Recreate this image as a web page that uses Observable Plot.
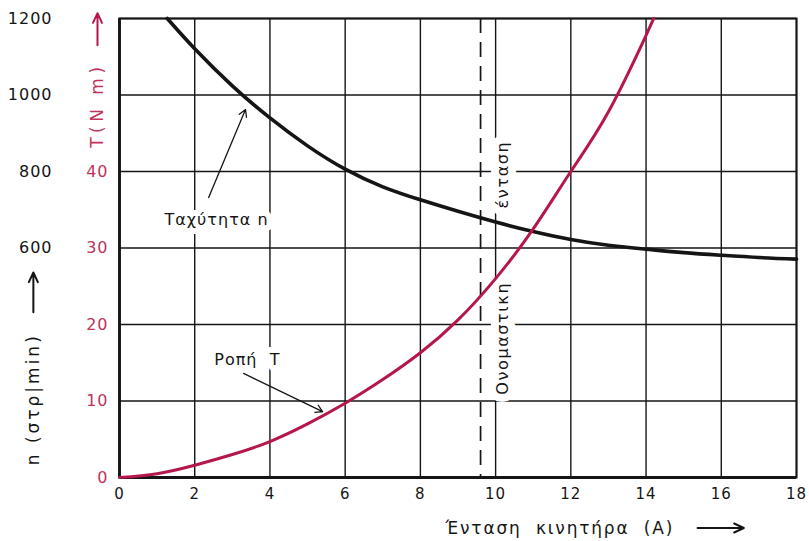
<!DOCTYPE html>
<html><head><meta charset="utf-8">
<script src="https://cdn.jsdelivr.net/npm/d3@7"></script>
<script src="https://cdn.jsdelivr.net/npm/@observablehq/plot@0.6"></script>
<style>
body{margin:0;background:#fff}
svg text{letter-spacing:1px}
</style>
</head><body><div id="chart"></div>
<script>
// Speed curve n (rpm) vs motor current (A)
const speedCurrent = [1.27, 2, 3, 4, 5, 6, 7, 8, 9, 10, 11, 12, 13, 14, 15, 16, 17, 18];
const speedRpm     = [1200, 1121, 1024, 940, 867, 806, 760, 726, 696, 668, 643, 622, 607, 597, 588, 581, 575, 571];
// Torque curve T (Nm) vs motor current (A)
const torqueCurrent = [0, 1, 2, 3, 4, 5, 6, 7, 8, 9, 10, 11, 12, 13, 14, 14.2];
const torqueNm      = [0, 0.5, 1.6, 3, 4.7, 7, 9.7, 12.8, 16.3, 20.6, 26, 32.5, 40, 47.8, 57.8, 60];
// Rated current
const ratedCurrent = [9.6];
// Ticks
const currentTicks = [0, 2, 4, 6, 8, 10, 12, 14, 16, 18];
const torqueTicks = [0, 10, 20, 30, 40];
const torqueGrid = [0, 10, 20, 30, 40, 50, 60];
const speedTicks = [600, 800, 1000, 1200];
const rpmPerNm = 20; // n axis: 1200 rpm aligns with 60 Nm

const speedData = speedCurrent.map((a, i) => ({A: a, n: speedRpm[i]}));
const torqueData = torqueCurrent.map((a, i) => ({A: a, T: torqueNm[i]}));

// annotations
const speedLabel = [{A: 2.58, T: 33.7, text: "Ταχύτητα n"}];
const torqueLabel = [{A: 3.4, T: 15.4, text: "Ροπή  T"}];
const ratedLabels = [{A: 10.19, T: 39.6, text: "ένταση"}, {A: 10.19, T: 18.2, text: "Ονομαστικη"}];
const speedArrow = [{A1: 2.37, T1: 36.6, A2: 3.35, T2: 48.1}];
const torqueArrow = [{A1: 3.3, T1: 13.6, A2: 5.4, T2: 8.6}];
const titleArrowsRed = [{A1: -0.585, T1: 56.5, A2: -0.585, T2: 60.7}];
const titleArrowsInk = [{A1: -2.29, T1: 21.6, A2: -2.29, T2: 26.8}, {A1: 15.37, T1: -6.6, A2: 16.6, T2: -6.6}];

const RED = "#b5174b";
const REDTXT = "#c0345a";
const INK = "#151515";

const chart = Plot.plot({
  width: 809, height: 541,
  marginLeft: 119, marginRight: 13, marginTop: 18, marginBottom: 64,
  x: {domain: [0, 18]},
  y: {domain: [0, 60]},
  style: {fontFamily: "DejaVu Sans", background: "white", color: INK},
  marks: [
    Plot.gridX({ticks: currentTicks, stroke: INK, strokeOpacity: 1, strokeWidth: 1.4}),
    Plot.gridY({ticks: torqueGrid, stroke: INK, strokeOpacity: 1, strokeWidth: 1.4}),
    Plot.frame({stroke: INK, strokeWidth: 2}),
    Plot.ruleX([0], {stroke: INK, strokeWidth: 2.8}),
    Plot.ruleY([0], {stroke: INK, strokeWidth: 2.8}),
    Plot.ruleX(ratedCurrent, {stroke: INK, strokeWidth: 1.7, strokeDasharray: "15,9"}),
    Plot.axisX({ticks: currentTicks, tickSize: 0, tickPadding: 11, fontSize: 15, fill: INK, label: null}),
    Plot.axisY({ticks: torqueTicks, tickSize: 0, tickPadding: 11, fontSize: 16, fill: REDTXT, label: null}),
    Plot.axisY({ticks: speedTicks.map(v => v / rpmPerNm), tickFormat: v => String(Math.round(v * rpmPerNm)), tickSize: 0, tickPadding: 67, fontSize: 16, fill: INK, label: null}),
    Plot.text(speedLabel, {x: "A", y: "T", text: "text", fontSize: 16, fill: INK, stroke: "white", strokeWidth: 12}),
    Plot.text(torqueLabel, {x: "A", y: "T", text: "text", fontSize: 16, fill: INK, stroke: "white", strokeWidth: 12}),
    Plot.text(ratedLabels, {x: "A", y: "T", text: "text", rotate: -90, fontSize: 16, fill: INK, stroke: "white", strokeWidth: 16}),
    Plot.line(speedData, {x: "A", y: d => d.n / rpmPerNm, stroke: INK, strokeWidth: 3.6, curve: "natural"}),
    Plot.line(torqueData, {x: "A", y: "T", stroke: RED, strokeWidth: 3, curve: "natural"}),
    Plot.arrow(speedArrow, {x1: "A1", y1: "T1", x2: "A2", y2: "T2", stroke: INK, strokeWidth: 1.3, headLength: 9}),
    Plot.arrow(torqueArrow, {x1: "A1", y1: "T1", x2: "A2", y2: "T2", stroke: INK, strokeWidth: 1.3, headLength: 9}),
    Plot.text(["T(N m)"], {x: 0, y: 43.1, dx: -22, rotate: -90, textAnchor: "start", fontSize: 17, fill: REDTXT}),
    Plot.arrow(titleArrowsRed, {x1: "A1", y1: "T1", x2: "A2", y2: "T2", stroke: RED, strokeWidth: 2, headLength: 8, headAngle: 50}),
    Plot.text(["n (στρ|min)"], {x: 0, y: 1.6, dx: -86, rotate: -90, textAnchor: "start", fontSize: 17, fill: INK}),
    Plot.text(["Ένταση  κινητήρα  (A)"], {x: 8.67, y: 0, dy: 51, textAnchor: "start", fontSize: 17, fill: INK}),
    Plot.arrow(titleArrowsInk, {x1: "A1", y1: "T1", x2: "A2", y2: "T2", stroke: INK, strokeWidth: 2, headLength: 8, headAngle: 50})
  ]
});
// wide letter spacing of the original's typewriter-style lettering
const spacing = {"T(N m)": "4.5px", "n (στρ|min)": "3px", "Ένταση  κινητήρα  (A)": "1.8px", "ένταση": "1.6px", "Ονομαστικη": "1.6px"};
d3.select(chart).selectAll("text").each(function() {
  const s = spacing[this.textContent];
  if (s) this.style.letterSpacing = s;
});
document.getElementById("chart").appendChild(chart);
</script>
</body></html>
